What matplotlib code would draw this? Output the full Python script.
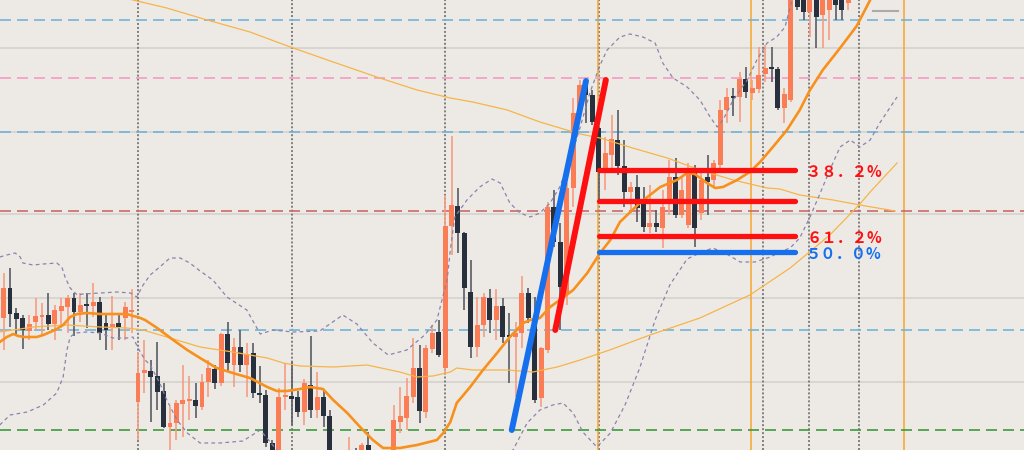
import numpy as np
import matplotlib.pyplot as plt

plt.rcParams['font.family'] = ['Noto Sans CJK JP', 'DejaVu Sans']

# 1時間足のローソク足 (価格)
opens = [146.82, 147.12, 146.87, 146.82, 146.69, 146.78, 146.83, 146.85, 146.76, 146.89,
         146.93, 147.02, 146.88, 146.96, 146.94, 146.98, 146.77, 146.73, 146.77, 146.82,
         146.88, 145.98, 146.27, 146.29, 146.24, 146.09, 145.73, 145.77, 145.96, 145.99,
         146.00, 145.93, 146.18, 146.31, 146.17, 146.66, 146.35, 146.53, 146.35, 146.47,
         146.07, 146.05, 145.57, 145.38, 146.03, 146.04, 146.03, 145.88, 146.15, 145.90,
         146.03, 145.84, 145.38, 145.30, 145.30, 145.40, 145.35, 145.55, 145.38, 145.32,
         145.40, 145.35, 145.78, 145.82, 146.03, 146.32, 145.88, 146.51, 146.68, 146.32,
         147.74, 147.94, 147.67, 147.08, 146.53, 146.75, 147.02, 146.80, 146.94, 146.65,
         146.63, 146.67, 147.07, 146.82, 146.02, 146.50, 147.93, 147.58, 147.05, 148.12,
         148.87, 149.18, 149.05, 148.72, 148.30, 148.45, 148.60, 148.34, 148.08, 148.13,
         147.97, 147.73, 147.77, 147.72, 147.97, 148.23, 147.85, 147.75, 148.28, 147.87,
         148.23, 148.20, 148.35, 148.90, 149.04, 149.03, 149.21, 149.07, 149.11, 149.26,
         149.32, 149.31, 148.92, 149.00, 150.10, 150.05, 149.88, 150.10, 149.85, 149.90,
         150.05, 150.03, 149.97]
highs = [147.27, 147.32, 146.92, 146.85, 146.85, 147.02, 146.97, 147.07, 146.95, 147.02,
         147.05, 147.07, 147.07, 147.07, 147.17, 147.03, 146.85, 147.04, 146.85, 146.98,
         147.11, 146.48, 146.60, 146.40, 146.58, 146.17, 145.93, 146.00, 146.35, 146.24,
         146.17, 146.26, 146.40, 146.35, 146.67, 146.78, 146.62, 146.70, 146.57, 146.57,
         146.34, 146.10, 145.60, 146.12, 146.37, 146.38, 146.09, 146.21, 146.64, 146.28,
         146.09, 145.90, 145.48, 145.45, 145.63, 145.52, 145.57, 145.68, 145.45, 145.45,
         145.48, 145.95, 146.13, 146.22, 146.62, 146.55, 146.55, 146.75, 146.80, 148.05,
         148.64, 148.12, 147.68, 147.40, 147.03, 147.07, 147.11, 147.11, 147.02, 146.87,
         146.78, 147.24, 147.12, 147.03, 146.53, 147.98, 148.10, 147.77, 148.17, 149.02,
         149.20, 149.20, 149.10, 148.72, 148.63, 148.85, 148.90, 148.60, 148.18, 148.25,
         148.13, 148.15, 147.90, 148.10, 148.40, 148.42, 148.23, 148.37, 148.35, 148.27,
         148.45, 148.40, 149.00, 149.12, 149.12, 149.28, 149.33, 149.20, 149.53, 149.55,
         149.53, 149.33, 149.12, 150.10, 150.20, 150.15, 150.15, 150.15, 150.12, 150.15,
         150.12, 150.10, 150.10]
lows = [146.50, 146.73, 146.65, 146.51, 146.60, 146.70, 146.65, 146.70, 146.60, 146.73,
        146.67, 146.64, 146.78, 146.72, 146.83, 146.60, 146.50, 146.50, 146.60, 146.60,
        146.67, 145.60, 146.07, 145.78, 145.90, 145.72, 145.50, 145.60, 145.63, 145.80,
        145.82, 145.90, 146.03, 146.11, 146.14, 146.28, 146.13, 146.28, 146.03, 146.02,
        145.97, 145.53, 145.32, 145.34, 145.90, 145.75, 145.83, 145.75, 145.82, 145.82,
        145.73, 145.30, 145.20, 145.15, 145.20, 145.22, 145.30, 145.30, 145.20, 145.25,
        145.30, 145.30, 145.67, 145.70, 145.97, 145.77, 145.82, 146.47, 146.43, 146.27,
        147.45, 147.47, 146.90, 146.42, 146.43, 146.63, 146.67, 146.60, 146.57, 146.17,
        146.03, 146.52, 146.77, 145.97, 145.93, 146.47, 147.53, 146.70, 146.95, 147.93,
        148.82, 148.77, 148.75, 148.00, 148.10, 148.30, 148.25, 147.93, 147.87, 147.78,
        147.68, 147.67, 147.68, 147.52, 147.85, 147.82, 147.82, 147.72, 147.53, 147.80,
        147.85, 148.12, 148.32, 148.77, 148.84, 148.78, 149.02, 149.00, 149.07, 149.18,
        149.18, 148.90, 148.77, 148.98, 149.90, 149.80, 149.63, 149.52, 149.52, 149.60,
        149.80, 149.80, 149.90]
closes = [147.12, 146.86, 146.81, 146.70, 146.76, 146.84, 146.85, 146.76, 146.90, 146.94,
          147.02, 146.88, 146.95, 146.94, 146.98, 146.67, 146.70, 146.76, 146.73, 146.93,
          146.89, 146.27, 146.30, 146.23, 146.08, 145.73, 145.77, 145.97, 146.00, 146.01,
          145.94, 146.18, 146.32, 146.17, 146.66, 146.37, 146.53, 146.35, 146.46, 146.07,
          146.05, 145.57, 145.40, 146.03, 146.05, 146.01, 145.88, 146.17, 145.90, 146.03,
          145.84, 145.38, 145.30, 145.35, 145.40, 145.32, 145.55, 145.38, 145.32, 145.40,
          145.42, 145.80, 145.84, 146.04, 146.32, 145.89, 146.52, 146.67, 146.45, 147.74,
          147.95, 147.67, 147.12, 146.53, 146.75, 147.03, 146.80, 146.94, 146.63, 146.63,
          146.67, 147.07, 146.82, 146.00, 146.52, 147.93, 147.58, 147.13, 148.12, 148.87,
          149.15, 149.05, 148.78, 148.28, 148.47, 148.61, 148.34, 148.08, 148.13, 147.92,
          147.73, 147.77, 147.73, 147.93, 148.23, 147.85, 148.10, 148.30, 147.72, 148.20,
          148.18, 148.37, 148.90, 149.03, 149.02, 149.21, 149.08, 149.12, 149.25, 149.32,
          149.31, 148.92, 149.06, 150.05, 149.93, 149.88, 150.08, 149.83, 150.05, 150.08,
          149.95, 149.90, 150.05]

# 短期移動平均 (足番号, 価格)
ma_short = [(-0.6, 146.58), (0.5, 146.63), (1.5, 146.66), (2.3, 146.64), (3.2, 146.63),
            (5.2, 146.63), (6.2, 146.65), (7.3, 146.68), (8.3, 146.71), (9.3, 146.75),
            (10.4, 146.83), (11.5, 146.86), (13.0, 146.87), (15.1, 146.86), (19.3, 146.86),
            (20.2, 146.84), (21.0, 146.83), (22.1, 146.80), (24.0, 146.72), (26.5, 146.60),
            (28.7, 146.50), (30.7, 146.42), (33.3, 146.32), (35.8, 146.27), (38.5, 146.22),
            (41.2, 146.13), (42.7, 146.09), (44.3, 146.09), (46.3, 146.11), (47.9, 146.13),
            (49.9, 146.11), (51.5, 146.00), (53.7, 145.87), (55.7, 145.73), (57.7, 145.60),
            (59.3, 145.52), (61.9, 145.52), (64.6, 145.55), (67.7, 145.60), (68.7, 145.67),
            (69.8, 145.78), (70.8, 145.97), (72.9, 146.13), (74.9, 146.30), (77.1, 146.47),
            (79.1, 146.63), (81.2, 146.77), (82.3, 146.80), (83.8, 146.82), (85.4, 146.93),
            (86.9, 147.00), (89.0, 147.10), (91.2, 147.27), (93.2, 147.47), (94.8, 147.60),
            (96.3, 147.78), (99.4, 147.97), (102.6, 148.13), (105.2, 148.20), (106.8, 148.27),
            (108.0, 148.26), (109.9, 148.17), (111.2, 148.12), (112.4, 148.13), (114.6, 148.20),
            (116.6, 148.28), (118.2, 148.38), (120.2, 148.53), (122.4, 148.70), (124.4, 148.90),
            (126.0, 149.10), (128.0, 149.30), (130.7, 149.52), (133.3, 149.74), (135.4, 150.00),
            (136.9, 150.15)]

# 中期移動平均
ma_mid = [(-0.6, 146.68), (1.5, 146.70), (4.6, 146.73), (9.9, 146.75), (12.4, 146.74),
          (15.1, 146.73), (19.3, 146.72), (21.8, 146.70), (25.5, 146.63), (30.7, 146.53),
          (35.8, 146.48), (41.2, 146.42), (43.7, 146.37), (46.3, 146.34), (51.5, 146.33),
          (56.8, 146.35), (61.9, 146.28), (64.6, 146.23), (67.1, 146.24), (69.8, 146.28),
          (70.8, 146.32), (73.3, 146.30), (78.7, 146.30), (82.7, 146.28), (86.5, 146.33),
          (90.1, 146.40), (94.7, 146.50), (101.0, 146.65), (108.8, 146.82), (116.6, 147.05),
          (122.9, 147.32), (129.1, 147.65), (133.8, 147.96), (135.4, 148.08), (139.6, 148.37)]

# 長期移動平均
ma_long = [(16.6, 150.08), (20.2, 150.00), (25.5, 149.92), (31.8, 149.80), (38.5, 149.68),
           (44.8, 149.53), (51.5, 149.38), (58.3, 149.23), (64.6, 149.10), (69.8, 149.02),
           (73.3, 148.98), (78.7, 148.90), (83.8, 148.78), (88.0, 148.70), (90.1, 148.66),
           (93.2, 148.62), (98.3, 148.52), (103.7, 148.42), (108.8, 148.30), (114.0, 148.20),
           (119.3, 148.12), (121.3, 148.11), (124.4, 148.05), (129.6, 148.00), (133.8, 147.95),
           (139.3, 147.89)]

# ボリンジャーバンド
bb_upper = [(-0.6, 147.43), (0.5, 147.45), (1.8, 147.47), (2.6, 147.43), (3.0, 147.37),
            (4.6, 147.35), (6.2, 147.36), (8.3, 147.37), (9.1, 147.33), (9.6, 147.23),
            (10.4, 147.12), (11.5, 147.05), (12.4, 147.06), (15.1, 147.07), (17.7, 147.08),
            (19.8, 147.07), (20.8, 147.03), (21.8, 147.15), (22.9, 147.25), (24.4, 147.33),
            (26.0, 147.42), (27.6, 147.42), (29.1, 147.37), (30.7, 147.29), (32.7, 147.20),
            (34.9, 147.03), (38.0, 146.90), (40.1, 146.66), (42.1, 146.70), (45.2, 146.68),
            (49.4, 146.69), (53.0, 146.85), (55.2, 146.76), (57.7, 146.57), (60.1, 146.45),
            (63.0, 146.50), (65.8, 146.65), (67.7, 146.80), (69.3, 147.20), (69.8, 147.50),
            (70.5, 147.83), (72.4, 148.00), (74.4, 148.13), (76.3, 148.21), (77.6, 148.17),
            (79.1, 147.97), (80.7, 147.87), (82.3, 147.83), (83.8, 147.87), (85.4, 147.97),
            (86.9, 148.13), (88.5, 148.40), (90.1, 148.73), (91.6, 149.07), (93.2, 149.35),
            (94.3, 149.50), (96.3, 149.63), (97.9, 149.66), (99.9, 149.63), (101.8, 149.57),
            (103.0, 149.37), (104.6, 149.22), (106.8, 149.13), (108.8, 149.00), (110.4, 148.83),
            (111.5, 148.73), (112.4, 148.80), (114.0, 149.00), (116.2, 149.20), (117.7, 149.40),
            (119.3, 149.57), (120.8, 149.63), (122.1, 149.73), (123.2, 150.00), (124.4, 150.20)]
bb_lower = [(-0.6, 145.75), (1.0, 145.85), (3.7, 145.88), (6.2, 145.95), (8.3, 146.07),
            (9.3, 146.23), (9.9, 146.50), (10.4, 146.63), (11.2, 146.67), (13.0, 146.68),
            (15.1, 146.67), (17.1, 146.62), (19.3, 146.62), (20.2, 146.63), (21.0, 146.52),
            (22.1, 146.40), (22.9, 146.35), (24.4, 146.17), (25.5, 146.00), (27.1, 145.80),
            (28.7, 145.67), (30.7, 145.57), (33.8, 145.57), (37.4, 145.59), (40.1, 145.70),
            (42.7, 145.50), (44.8, 145.38), (54.1, 145.25), (65.1, 145.28), (74.4, 145.35),
            (79.6, 145.50), (81.8, 145.77), (83.8, 145.90), (85.8, 145.95), (87.4, 145.97),
            (89.0, 145.87), (90.5, 145.68), (92.7, 145.53), (94.8, 145.67), (97.1, 145.95),
            (99.4, 146.32), (101.8, 146.80), (104.1, 147.15), (106.8, 147.41), (108.8, 147.47),
            (110.8, 147.52), (112.7, 147.47), (115.1, 147.38), (117.4, 147.38), (119.8, 147.43),
            (121.3, 147.48), (122.9, 147.52), (124.4, 147.62), (126.0, 147.83), (127.6, 148.07),
            (129.1, 148.30), (130.7, 148.53), (132.3, 148.60), (133.8, 148.53), (135.4, 148.60),
            (136.9, 148.77), (139.6, 149.03)]

# 水平線 (価格, 色)
h_levels = [(149.80, '#72b4d8'), (149.22, '#f29bc4'), (148.68, '#72b4d8'),
            (147.89, '#c96a6a'), (146.70, '#72b4d8'), (145.70, '#3d9a3d')]
grid_levels = [149.52, 148.68, 147.86, 147.02, 146.18]
day_lines = [21.0, 45.0, 69.0, 93.0, 118.6, 125.8, 133.7]
orange_lines = [92.9, 116.8, 140.7]

# 作図したトレンドライン (足番号, 価格)
blue_trend = [(79.4, 145.70), (91.0, 149.19)]
red_trend = [(86.2, 146.70), (94.1, 149.20)]
fibo_start, fibo_end = 93.0, 123.7
fibo_lines = [(148.30, '#ff1010', '３８．２%'), (147.99, '#ff1010', ''),
              (147.64, '#ff1010', '６１．２%'), (147.48, '#1670ee', '５０．０%')]
last_price = 149.89

bg = '#edeae6'
bull = '#fa7d56'
bull_wick = '#f69c82'
bear = '#27303c'
bear_wick = '#585d65'

fig = plt.figure(figsize=(10.24, 4.5), dpi=100)
fig.patch.set_facecolor(bg)
ax = fig.add_axes([0, 0, 1, 1])
ax.set_facecolor(bg)

for g in grid_levels:
    ax.axhline(g, color='#d5d2ce', lw=1.2, zorder=0.5)
for d in day_lines:
    ax.axvline(d, color='#636363', lw=1.1, linestyle=(0, (1.3, 1.3)), zorder=1)
for d in orange_lines:
    ax.axvline(d, color='#f5a62c', lw=1.1, zorder=1.2)
for lvl, col in h_levels:
    ax.axhline(lvl, color=col, lw=1.2, linestyle=(0, (6.6, 3.6)), zorder=1.5)

o = np.array(opens)
h = np.array(highs)
l = np.array(lows)
c = np.array(closes)
x = np.arange(len(o))
up = c >= o
body_low = np.minimum(o, c)
body_h = np.maximum(np.abs(c - o), 0.02)

ax.vlines(x[up], l[up], h[up], color=bull_wick, lw=1.2, zorder=2)
ax.vlines(x[~up], l[~up], h[~up], color=bear_wick, lw=1.2, zorder=2)
ax.bar(x[up], body_h[up], 0.78, bottom=body_low[up], color=bull, zorder=3)
ax.bar(x[~up], body_h[~up], 0.78, bottom=body_low[~up], color=bear, zorder=3)

def xy(pts):
    a = np.array(pts)
    return a[:, 0], a[:, 1]

ax.plot(*xy(ma_long), color='#f7b448', lw=0.9, zorder=4)
ax.plot(*xy(ma_mid), color='#f7b448', lw=0.9, zorder=4)
ax.plot(*xy(bb_upper), color='#8a83ad', lw=0.9, linestyle=(0, (3, 2.6)), zorder=4)
ax.plot(*xy(bb_lower), color='#8a83ad', lw=0.9, linestyle=(0, (3, 2.6)), zorder=4)
ax.plot(*xy(ma_short), color='#f7901c', lw=1.9, zorder=4.5)

ax.plot([135.8, 139.7], [last_price, last_price], color='#aaaaaa', lw=1.5, zorder=4)

ax.plot(*xy(blue_trend), color='#1670ee', lw=4.3, solid_capstyle='round', zorder=6)
ax.plot(*xy(red_trend), color='#ff1010', lw=4.3, solid_capstyle='round', zorder=6)
for lvl, col, label in fibo_lines:
    ax.plot([fibo_start, fibo_end], [lvl, lvl], color=col, lw=3.8,
            solid_capstyle='round', zorder=6)
    if label:
        ax.text(125.4, lvl - 0.02, label, color=col, fontsize=11,
                fontweight='bold', ha='left', va='center', zorder=7)

ax.set_xlim(-0.5625, 159.44)
ax.set_ylim(145.50, 150.00)
ax.set_axis_off()

fig.savefig('out.png', dpi=100, facecolor=bg)
